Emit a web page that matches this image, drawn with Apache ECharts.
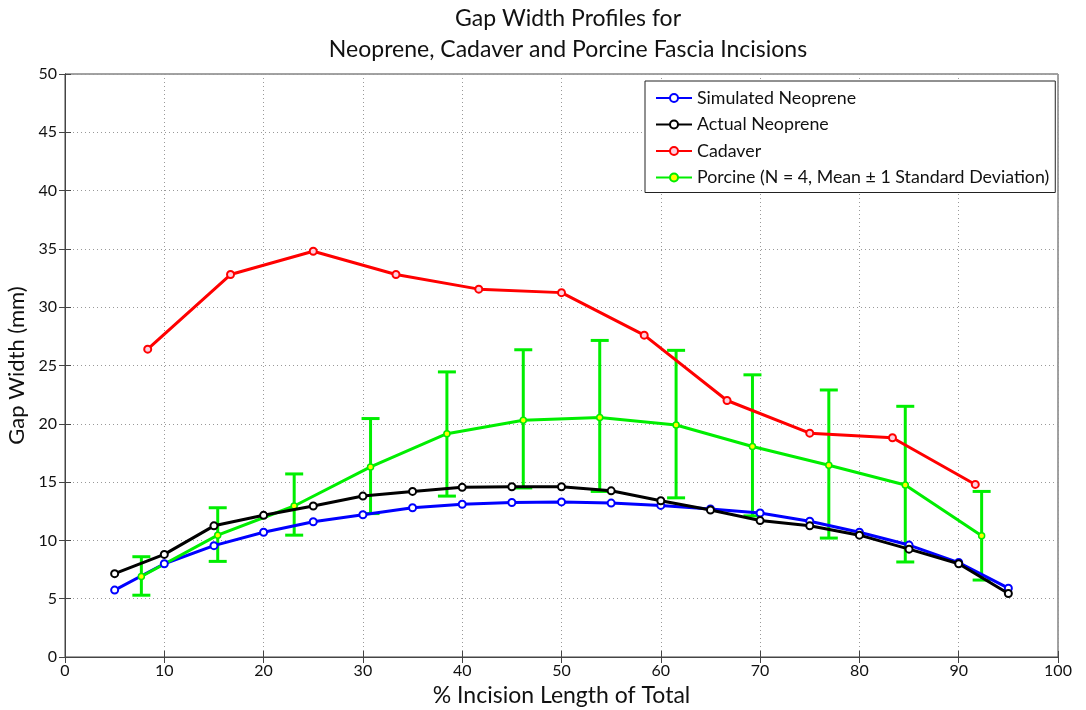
<!DOCTYPE html>
<html>
<head>
<meta charset="utf-8">
<script src="https://cdn.jsdelivr.net/npm/echarts@6/dist/echarts.min.js"></script>
<style>
  html, body { margin: 0; padding: 0; background: #fff; }
  #main { width: 1086px; height: 710px; }
</style>
</head>
<body>
<div id="main"></div>
<script>
// data
var simX = [5, 10, 15, 20, 25, 30, 35, 40, 45, 50, 55, 60, 65, 70, 75, 80, 85, 90, 95];
var simY = [5.74, 8.0, 9.55, 10.7, 11.6, 12.2, 12.8, 13.1, 13.25, 13.3, 13.2, 13.0, 12.7, 12.35, 11.65, 10.7, 9.6, 8.1, 5.9];
var actY = [7.15, 8.8, 11.25, 12.15, 12.95, 13.8, 14.2, 14.55, 14.6, 14.6, 14.25, 13.4, 12.6, 11.7, 11.25, 10.45, 9.25, 8.0, 5.45];
var cadX = [8.33, 16.67, 25, 33.33, 41.67, 50, 58.33, 66.67, 75, 83.33, 91.67];
var cadY = [26.4, 32.8, 34.8, 32.8, 31.55, 31.25, 27.6, 22.0, 19.2, 18.8, 14.8];
var porX = [7.69, 15.38, 23.08, 30.77, 38.46, 46.15, 53.85, 61.54, 69.23, 76.92, 84.62, 92.31];
var porY = [6.9, 10.45, 12.95, 16.3, 19.15, 20.3, 20.55, 19.9, 18.05, 16.45, 14.75, 10.4];
var porHi = [8.6, 12.8, 15.7, 20.45, 24.45, 26.35, 27.15, 26.3, 24.2, 22.9, 21.5, 14.2];
var porLo = [5.3, 8.2, 10.45, 12.3, 13.8, 14.5, 14.2, 13.65, 12.1, 10.2, 8.15, 6.6];

var font = 'Lato, "Open Sans", sans-serif';

function zip(xs, ys) {
  return xs.map(function (x, i) { return [x, ys[i]]; });
}

var errData = porX.map(function (x, i) { return [x, porLo[i], porHi[i]]; });

var myChart = echarts.init(document.getElementById('main'));

var option = {
  backgroundColor: '#fff',
  animation: false,
  title: {
    text: 'Gap Width Profiles for\nNeoprene, Cadaver and Porcine Fascia Incisions',
    left: 563,
    textAlign: 'center',
    top: -2,
    textStyle: { fontFamily: font, fontWeight: 'normal', fontSize: 23, color: '#111', lineHeight: 31 }
  },
  grid: {
    left: 65, right: 28, top: 74, bottom: 53,
    outerBoundsMode: 'none',
    show: true, borderColor: '#444', borderWidth: 1
  },
  legend: {
    orient: 'vertical',
    left: 645,
    top: 81,
    width: 410,
    padding: [8, 6, 6, 10],
    itemGap: 8.5,
    itemWidth: 36,
    itemHeight: 10,
    backgroundColor: '#fff',
    borderColor: '#222',
    borderWidth: 1,
    textStyle: { fontFamily: font, fontSize: 17.8, color: '#111' },
    data: ['Simulated Neoprene', 'Actual Neoprene', 'Cadaver', 'Porcine (N = 4, Mean \u00b1 1 Standard Deviation)']
  },
  xAxis: [{
    type: 'value', min: 0, max: 100, interval: 10,
    name: '% Incision Length of Total', nameLocation: 'middle', nameGap: 25,
    nameTextStyle: { fontFamily: font, fontSize: 23, color: '#111' },
    axisLine: { lineStyle: { color: '#444' } },
    axisTick: { inside: true, length: 6, lineStyle: { color: '#444' } },
    axisLabel: { fontFamily: font, fontSize: 16, color: '#111', margin: 6 },
    splitLine: { lineStyle: { type: [1, 3], color: '#999' } }
  }, {
    type: 'value', min: 0, max: 100, interval: 10, position: 'top',
    axisLine: { lineStyle: { color: '#444' } },
    axisTick: { inside: true, length: 6, lineStyle: { color: '#444' } },
    axisLabel: { show: false }, splitLine: { show: false }
  }],
  yAxis: [{
    type: 'value', min: 0, max: 50, interval: 5,
    name: 'Gap Width (mm)', nameLocation: 'middle', nameGap: 36,
    nameTextStyle: { fontFamily: font, fontSize: 22, color: '#111' },
    axisLine: { show: true, lineStyle: { color: '#444' } },
    axisTick: { show: true, inside: true, length: 6, lineStyle: { color: '#444' } },
    axisLabel: { fontFamily: font, fontSize: 16, color: '#111', margin: 8 },
    splitLine: { lineStyle: { type: [1, 3], color: '#999' } }
  }, {
    type: 'value', min: 0, max: 50, interval: 5, position: 'right',
    axisLine: { show: true, lineStyle: { color: '#444' } },
    axisTick: { show: true, inside: true, length: 6, lineStyle: { color: '#444' } },
    axisLabel: { show: false }, splitLine: { show: false }
  }],
  series: [
    {
      name: 'Porcine error',
      type: 'custom',
      z: 3,
      data: errData,
      renderItem: function (params, api) {
        var x = api.value(0);
        var lo = api.coord([x, api.value(1)]);
        var hi = api.coord([x, api.value(2)]);
        var w = 9;
        var st = { stroke: '#00ee00', lineWidth: 3 };
        return {
          type: 'group',
          children: [
            { type: 'line', shape: { x1: lo[0], y1: lo[1], x2: hi[0], y2: hi[1] }, style: st },
            { type: 'line', shape: { x1: hi[0] - w, y1: hi[1], x2: hi[0] + w, y2: hi[1] }, style: st },
            { type: 'line', shape: { x1: lo[0] - w, y1: lo[1], x2: lo[0] + w, y2: lo[1] }, style: st }
          ]
        };
      }
    },
    {
      name: 'Simulated Neoprene', type: 'line', data: zip(simX, simY), z: 4,
      symbol: 'circle', symbolSize: 7,
      lineStyle: { color: '#0000ff', width: 3 },
      itemStyle: { color: '#ffffff', borderColor: '#0000ff', borderWidth: 2 }
    },
    {
      name: 'Actual Neoprene', type: 'line', data: zip(simX, actY), z: 5,
      symbol: 'circle', symbolSize: 7,
      lineStyle: { color: '#000000', width: 3 },
      itemStyle: { color: '#ffffff', borderColor: '#000000', borderWidth: 2 }
    },
    {
      name: 'Cadaver', type: 'line', data: zip(cadX, cadY), z: 4,
      symbol: 'circle', symbolSize: 7,
      lineStyle: { color: '#ff0000', width: 3 },
      itemStyle: { color: '#ffd0e0', borderColor: '#ff0000', borderWidth: 2 }
    },
    {
      name: 'Porcine (N = 4, Mean \u00b1 1 Standard Deviation)', type: 'line', data: zip(porX, porY), z: 4,
      symbol: 'circle', symbolSize: 6,
      lineStyle: { color: '#00ee00', width: 3 },
      itemStyle: { color: '#ffff00', borderColor: '#00ee00', borderWidth: 1.5 }
    }
  ]
};

myChart.setOption(option);
</script>
</body>
</html>
